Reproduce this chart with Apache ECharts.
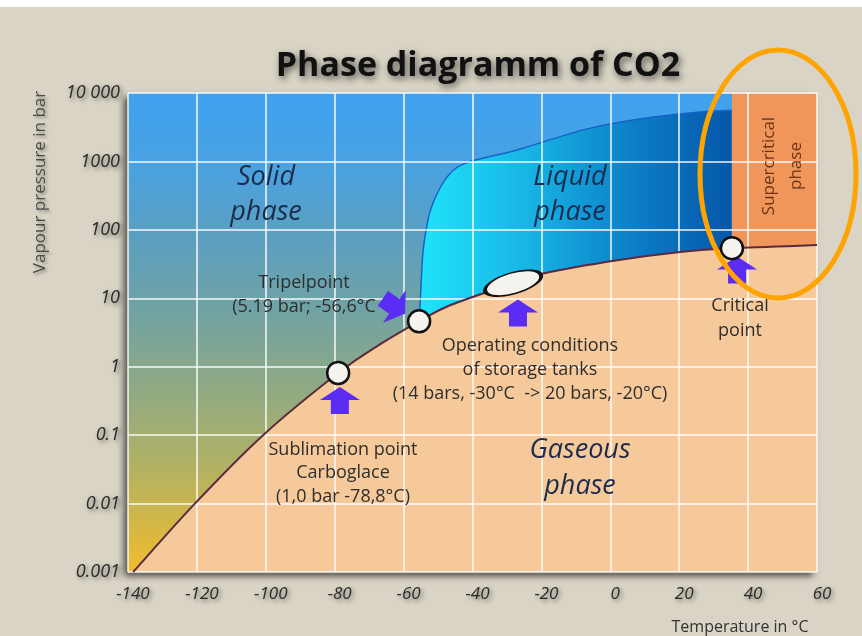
<!DOCTYPE html>
<html>
<head>
<meta charset="utf-8">
<title>Phase diagramm of CO2</title>
<script src="https://cdn.jsdelivr.net/npm/echarts@6/dist/echarts.min.js"></script>
<style>
  html, body { margin: 0; padding: 0; background: #d9d4c5; }
  #chart { width: 862px; height: 636px; }
</style>
</head>
<body>
<div id="chart"></div>
<script>
// axis ranges (temperature in °C, pressure in bar)
const tempRange = [-140, 60]
const tempStep = 20
const pressureRange = [0.001, 10000]

// phase boundaries: [temperature, pressure]
const sublimationCurve = [[-138.5, 0.001], [-120.6, 0.01], [-100.8, 0.1], [-79, 0.81], [-67, 2.1], [-55.5, 4.6]]
const vaporCurve = [[-55.5, 4.6], [-46.5, 7.9], [-28.2, 16.6], [-19.5, 23], [2, 36], [21, 48], [35.3, 54]]
const supercriticalEdge = [[35.3, 54], [60, 60]]
const meltingCurve = [[-55.5, 4.6], [-55, 13], [-54.4, 46], [-53.2, 118], [-51.5, 245], [-47.4, 590], [-41.6, 960], [-27.1, 1470], [-7.9, 2890], [6.6, 4040], [26, 5270], [35.3, 5600]]

// marked points
const pointNames = ['Sublimation point', 'Tripelpoint', 'Critical point']
const pointTemps = [-79, -55.5, 35.3]
const pointPressures = [0.81, 4.6, 54]
const storageTemps = [-28.2]
const storagePressures = [16.6]

// arrows pointing at the marked points
const arrowTemps = [-78.5, -26.8, 36.8, -62.8]
const arrowPressures = [0.32, 6.1, 25.9, 7.7]
const arrowAngles = [0, 0, 0, -125]

const fullCurve = sublimationCurve.concat(vaporCurve.slice(1), supercriticalEdge.slice(1))

const chart = echarts.init(document.getElementById('chart'))

// catmull-rom through pixel points -> svg path
function splinePath(px, start) {
  let d = start ? 'M' + px[0][0] + ',' + px[0][1] : ''
  for (let i = 0; i < px.length - 1; i++) {
    const p0 = px[i - 1] || px[i]
    const p1 = px[i]
    const p2 = px[i + 1]
    const p3 = px[i + 2] || p2
    const c1 = [p1[0] + (p2[0] - p0[0]) / 6, p1[1] + (p2[1] - p0[1]) / 6]
    const c2 = [p2[0] - (p3[0] - p1[0]) / 6, p2[1] - (p3[1] - p1[1]) / 6]
    d += ' C' + c1[0] + ',' + c1[1] + ' ' + c2[0] + ',' + c2[1] + ' ' + p2[0] + ',' + p2[1]
  }
  return d
}

const toPx = (api, pts) => pts.map(p => api.coord(p))

function regionSeries(name, z, build) {
  return {
    name: name,
    type: 'custom',
    z: z,
    silent: true,
    data: [[0, 1]],
    renderItem: (params, api) => build(api)
  }
}

const shadowText = {
  textShadowColor: 'rgba(0,0,0,0.5)',
  textShadowBlur: 4,
  textShadowOffsetX: 2,
  textShadowOffsetY: 2
}

const noteFont = '18px "Open Sans", sans-serif'
const phaseFont = 'italic 27px "Open Sans", sans-serif'

const arrowPath = 'path://M0,0 L20,-13 L40,0 L29,0 L29,14 L11,14 L11,0 Z'

const option = {
  backgroundColor: '#d9d4c5',
  animation: false,
  grid: {
    left: 128,
    right: 45,
    top: 93,
    bottom: 64,
    show: true,
    borderWidth: 0,
    backgroundColor: new echarts.graphic.LinearGradient(0, 0, 0, 1, [
      { offset: 0, color: '#3fa1f0' },
      { offset: 0.15, color: '#49a2e2' },
      { offset: 0.3, color: '#5b9fc0' },
      { offset: 0.45, color: '#70a2a5' },
      { offset: 0.6, color: '#8ca986' },
      { offset: 0.75, color: '#abb06a' },
      { offset: 0.88, color: '#cdb64c' },
      { offset: 1, color: '#f2bc2c' }
    ]),
    shadowColor: 'rgba(0,0,0,0.65)',
    shadowBlur: 7,
    shadowOffsetX: -4,
    shadowOffsetY: 4
  },
  xAxis: {
    type: 'value',
    min: tempRange[0],
    max: tempRange[1],
    interval: tempStep,
    z: 2,
    axisLine: { show: false },
    axisTick: { show: false },
    splitLine: { lineStyle: { color: 'rgba(255,255,255,0.7)', width: 2 } },
    axisLabel: {
      margin: 14,
      padding: [0, 0, 0, 10],
      fontSize: 17,
      fontStyle: 'italic',
      fontFamily: 'Open Sans',
      color: '#2a2a2a',
      ...shadowText
    }
  },
  yAxis: {
    type: 'log',
    logBase: 10,
    min: pressureRange[0],
    max: pressureRange[1],
    z: 2,
    axisLine: { show: false },
    axisTick: { show: false },
    splitLine: { lineStyle: { color: 'rgba(255,255,255,0.7)', width: 2 } },
    axisLabel: {
      margin: 8,
      fontSize: 18,
      fontStyle: 'italic',
      fontFamily: 'Open Sans',
      color: '#2a2a2a',
      ...shadowText,
      formatter: v => {
        if (v >= 10000) return '10 000'
        if (v >= 1) return String(Math.round(v))
        return String(parseFloat(v.toPrecision(1)))
      }
    }
  },
  series: [
    regionSeries('Liquid phase', 1, api => {
      const bottom = toPx(api, vaporCurve)
      const top = toPx(api, meltingCurve).reverse()
      const d = splinePath(bottom, true) + ' L' + top[0][0] + ',' + top[0][1] + splinePath(top, false) + ' Z'
      return {
        type: 'path',
        shape: { pathData: d },
        style: {
          fill: new echarts.graphic.LinearGradient(0, 0, 1, 0, [
            { offset: 0, color: '#20e4fb' },
            { offset: 0.35, color: '#17b4e4' },
            { offset: 0.7, color: '#0c7cc6' },
            { offset: 1, color: '#0556a8' }
          ]),
          stroke: '#1464c8',
          lineWidth: 1.5
        }
      }
    }),
    regionSeries('Supercritical phase', 1, api => {
      const pts = supercriticalEdge.concat([[tempRange[1], pressureRange[1]], [supercriticalEdge[0][0], pressureRange[1]]])
      return {
        type: 'polygon',
        shape: { points: toPx(api, pts) },
        style: { fill: '#f1965b' }
      }
    }),
    regionSeries('Gaseous phase', 1, api => {
      const curve = toPx(api, fullCurve)
      const br = api.coord([tempRange[1], pressureRange[0]])
      const d = splinePath(curve, true) + ' L' + br[0] + ',' + br[1] + ' Z'
      return {
        type: 'path',
        shape: { pathData: d },
        style: { fill: '#f5c99a' }
      }
    }),
    regionSeries('Phase boundary', 3, api => ({
      type: 'path',
      shape: { pathData: splinePath(toPx(api, fullCurve), true) },
      style: { fill: null, stroke: '#5a2a3e', lineWidth: 2 }
    })),
    {
      name: 'Arrows',
      type: 'scatter',
      z: 4,
      silent: true,
      symbol: arrowPath,
      symbolSize: [40, 27],
      itemStyle: { color: '#5a2cf4', opacity: 1 },
      data: arrowTemps.map((t, i) => ({
        value: [t, arrowPressures[i]],
        symbolRotate: arrowAngles[i]
      }))
    },
    {
      name: 'Storage tanks',
      type: 'scatter',
      z: 5,
      silent: true,
      symbol: 'circle',
      symbolSize: [58, 21],
      symbolRotate: 16,
      itemStyle: { color: '#f4f3ee', borderColor: '#111', borderWidth: 2.5, opacity: 1 },
      data: storageTemps.map((t, i) => [t, storagePressures[i]])
    },
    {
      name: 'Points',
      type: 'scatter',
      z: 5,
      silent: true,
      symbol: 'circle',
      symbolSize: 22,
      itemStyle: { color: '#f4f3ee', borderColor: '#111', borderWidth: 2.5, opacity: 1 },
      data: pointTemps.map((t, i) => ({ name: pointNames[i], value: [t, pointPressures[i]] }))
    }
  ],
  graphic: [
    {
      type: 'rect', z: 1,
      shape: { x: 0, y: 0, width: 862, height: 7 },
      style: { fill: '#ffffff' }
    },
    {
      type: 'text', x: 478, y: 66, z: 10,
      style: {
        text: 'Phase diagramm of CO2',
        font: 'bold 34px "Open Sans", sans-serif',
        fill: '#111',
        align: 'center', verticalAlign: 'middle',
        textShadowColor: 'rgba(0,0,0,0.6)', textShadowBlur: 7, textShadowOffsetX: 2, textShadowOffsetY: 3
      }
    },
    {
      type: 'text', x: 40, y: 182, rotation: Math.PI / 2, z: 10,
      style: {
        text: 'Vapour pressure in bar',
        font: '17px "Open Sans", sans-serif',
        fill: '#4a4a4a',
        align: 'center', verticalAlign: 'middle',
        textShadowColor: 'rgba(0,0,0,0.35)', textShadowBlur: 3, textShadowOffsetX: 2, textShadowOffsetY: 2
      }
    },
    {
      type: 'text', x: 740, y: 627, z: 10,
      style: {
        text: 'Temperature in °C',
        font: '16px "Open Sans", sans-serif',
        fill: '#333',
        align: 'center', verticalAlign: 'middle'
      }
    },
    {
      type: 'text', x: 266, y: 195, z: 10,
      style: {
        text: 'Solid\nphase', font: phaseFont, lineHeight: 35,
        fill: '#1c2b4a', align: 'center', verticalAlign: 'middle'
      }
    },
    {
      type: 'text', x: 570, y: 195, z: 10,
      style: {
        text: 'Liquid\nphase', font: phaseFont, lineHeight: 35,
        fill: '#1c2b4a', align: 'center', verticalAlign: 'middle'
      }
    },
    {
      type: 'text', x: 580, y: 468, z: 10,
      style: {
        text: 'Gaseous\nphase', font: phaseFont, lineHeight: 36,
        fill: '#1c2b4a', align: 'center', verticalAlign: 'middle'
      }
    },
    {
      type: 'text', x: 783, y: 166, rotation: Math.PI / 2, z: 10,
      style: {
        text: 'Supercritical\nphase', font: '17px "Open Sans", sans-serif', lineHeight: 27,
        fill: '#6b3314', align: 'center', verticalAlign: 'middle'
      }
    },
    {
      type: 'text', x: 304, y: 295, z: 10,
      style: {
        text: 'Tripelpoint\n(5.19 bar; -56,6°C', font: noteFont, lineHeight: 24,
        fill: '#2e2e2e', align: 'center', verticalAlign: 'middle'
      }
    },
    {
      type: 'text', x: 530, y: 370, z: 10,
      style: {
        text: 'Operating conditions\nof storage tanks\n(14 bars, -30°C  -> 20 bars, -20°C)',
        font: noteFont, lineHeight: 24,
        fill: '#2e2e2e', align: 'center', verticalAlign: 'middle'
      }
    },
    {
      type: 'text', x: 343, y: 473, z: 10,
      style: {
        text: 'Sublimation point\nCarboglace\n(1,0 bar -78,8°C)',
        font: noteFont, lineHeight: 23.5,
        fill: '#2e2e2e', align: 'center', verticalAlign: 'middle'
      }
    },
    {
      type: 'text', x: 740, y: 318, z: 10,
      style: {
        text: 'Critical\npoint', font: noteFont, lineHeight: 25,
        fill: '#2e2e2e', align: 'center', verticalAlign: 'middle'
      }
    },
    {
      type: 'ellipse', z: 20,
      shape: { cx: 778, cy: 174, rx: 78, ry: 124 },
      style: { fill: null, stroke: '#ffa300', lineWidth: 5 }
    }
  ]
}

chart.setOption(option)
</script>
</body>
</html>
